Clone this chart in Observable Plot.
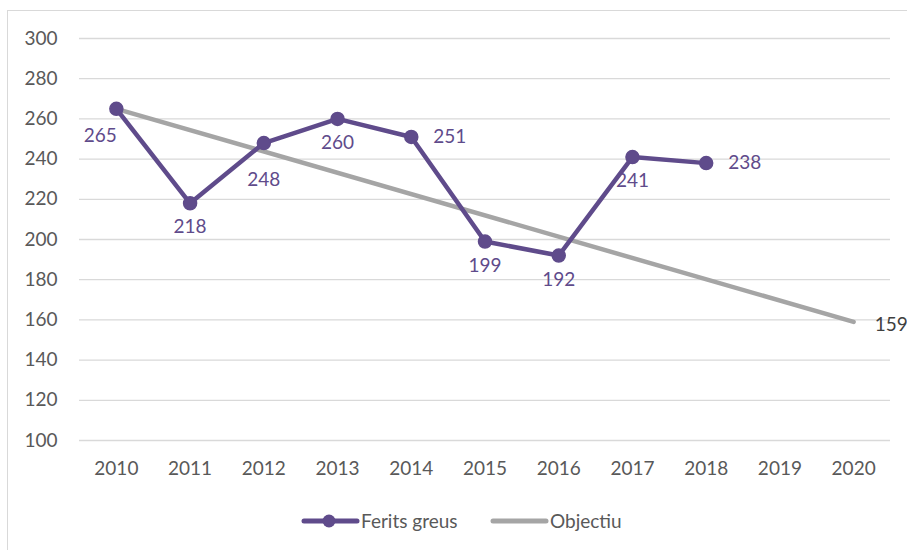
<!DOCTYPE html>
<html>
<head>
<meta charset="utf-8">
<script src="https://cdn.jsdelivr.net/npm/d3@7"></script>
<script src="https://cdn.jsdelivr.net/npm/@observablehq/plot@0.6"></script>
<style>
  html, body { margin: 0; padding: 0; background: #fff; overflow: hidden; }
  body { width: 907px; height: 550px; position: relative; font-family: Lato, "Open Sans", sans-serif; }
  #frame { position: absolute; left: 7px; top: 10px; width: 940px; height: 600px; border: 1px solid #d9d9d9; box-sizing: border-box; }
  #chart { position: absolute; left: 0; top: 0; }
  #legend { position: absolute; left: 0; top: 509px; width: 907px; height: 24px; font-size: 19px; color: #595959; }
  .sym { position: absolute; top: 0; }
  .lab { position: absolute; top: 0; line-height: 24px; }
</style>
</head>
<body>
<div id="frame"></div>
<div id="chart"></div>
<div id="legend"></div>
<script>
const years = ["2010","2011","2012","2013","2014","2015","2016","2017","2018","2019","2020"];
const feritsYears = ["2010","2011","2012","2013","2014","2015","2016","2017","2018"];
const feritsValues = [265, 218, 248, 260, 251, 199, 192, 241, 238];
const feritsLabelSide = ["leftbelow","below","farbelow","below","right","below","below","below","right"];
const objectiuYears = ["2010", "2020"];
const objectiuValues = [265, 159];
const yTicks = [100, 120, 140, 160, 180, 200, 220, 240, 260, 280, 300];
const seriesNames = ["Ferits greus", "Objectiu"];

const purple = "#5F4B8B";
const grey = "#A5A5A5";
const FS = 19;

const ferits = feritsYears.map((y, i) => ({year: y, value: feritsValues[i], side: feritsLabelSide[i]}));
const objectiu = objectiuYears.map((y, i) => ({year: y, value: objectiuValues[i]}));

const lbl = (side, opts) => Plot.text(ferits.filter(d => d.side === side),
  {x: "year", y: "value", text: d => String(d.value), fill: purple, fontSize: FS, ...opts});

const chart = Plot.plot({
  width: 907,
  height: 490,
  marginLeft: 79,
  marginRight: 17,
  marginTop: 38,
  marginBottom: 50,
  style: {fontFamily: "Lato, 'Open Sans', sans-serif", fontSize: FS + "px", color: "#595959", background: "transparent", overflow: "visible"},
  x: {type: "point", domain: years, padding: 0.5, round: false, label: null},
  y: {domain: [100, 300], ticks: yTicks, label: null},
  marks: [
    Plot.ruleY(yTicks, {stroke: "#d9d9d9", strokeWidth: 1.3}),
    Plot.axisY({ticks: yTicks, tickSize: 0, tickPadding: 22, fontSize: FS, fill: "#595959"}),
    Plot.axisX({tickSize: 0, tickPadding: 21, fontSize: FS, fill: "#595959"}),
    Plot.line(objectiu, {x: "year", y: "value", stroke: grey, strokeWidth: 4.5}),
    Plot.line(ferits, {x: "year", y: "value", stroke: purple, strokeWidth: 4.5, strokeLinejoin: "round"}),
    Plot.dot(ferits, {x: "year", y: "value", r: 6.5, fill: purple, stroke: purple}),
    lbl("below", {dy: 24}),
    lbl("farbelow", {dy: 37}),
    lbl("leftbelow", {dx: -16, dy: 27}),
    lbl("right", {dx: 22, textAnchor: "start"}),
    Plot.text(objectiu.slice(-1), {x: "year", y: "value", text: d => String(d.value), dx: 21, dy: 3, textAnchor: "start", fill: "#404040", fontSize: FS})
  ]
});
document.getElementById("chart").appendChild(chart);

const legend = document.getElementById("legend");
legend.innerHTML = `
  <svg class="sym" style="left:301px" width="60" height="24"><line x1="3" y1="12" x2="56" y2="12" stroke="${purple}" stroke-width="5" stroke-linecap="round"/><circle cx="28" cy="12" r="6.5" fill="${purple}"/></svg>
  <span class="lab" style="left:361px">${seriesNames[0]}</span>
  <svg class="sym" style="left:490px" width="60" height="24"><line x1="3" y1="12" x2="56" y2="12" stroke="${grey}" stroke-width="5" stroke-linecap="round"/></svg>
  <span class="lab" style="left:550px">${seriesNames[1]}</span>
`;
</script>
</body>
</html>
